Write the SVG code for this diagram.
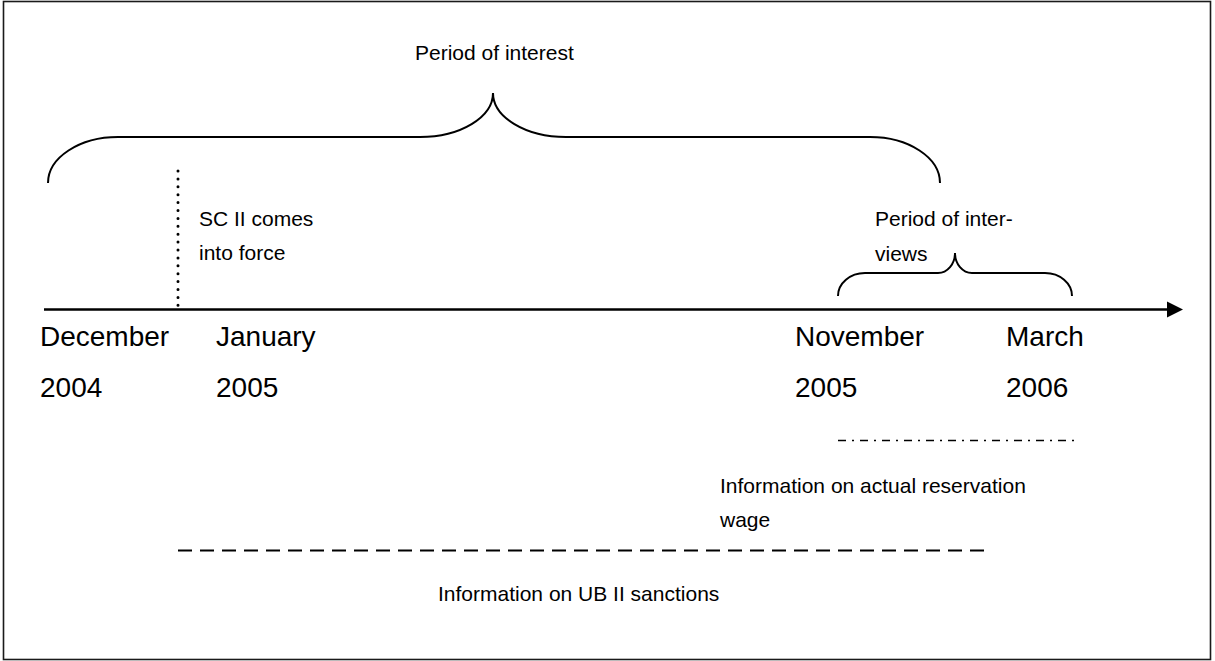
<svg xmlns="http://www.w3.org/2000/svg" width="1215" height="661" viewBox="0 0 1215 661">
<defs>
<style>
.t{font-family:"Liberation Sans",Arial,sans-serif;fill:#000}
.s{font-size:21px}
.b{font-size:28px}
.ln{fill:none;stroke:#000}
</style>
</defs>
<rect x="0" y="0" width="1215" height="661" fill="#fff"/>
<rect x="3.5" y="1.5" width="1207" height="658" fill="none" stroke="#1a1a1a" stroke-width="1.6"/>
<g id="connectors">
<path id="axis" class="ln" stroke-width="2.5" d="M44 309.5 H1170"/>
<polygon points="1183,309.5 1167,301.5 1167,317.5" fill="#000"/>
<path id="sc2-line" class="ln" stroke-width="3" stroke-linecap="round" stroke-dasharray="0 7.9" d="M178 171 V308"/>
<path id="reservation-line" class="ln" stroke-width="1.5" stroke-dasharray="8 6 2 6" d="M838 440.5 H1075"/>
<path id="sanctions-line" class="ln" stroke-width="2" stroke-dasharray="14 8" d="M178 550.5 H990"/>
</g>
<g id="brace-interest">
<path class="ln" stroke-width="2" d="M48 183 A70 46 0 0 1 118 137 H420 A73 44 0 0 0 493 93 A73 44 0 0 0 566 137 H870 A70 46 0 0 1 940 183"/>
<text class="t s" x="415" y="60">Period of interest</text>
</g>
<g id="brace-interviews">
<path class="ln" stroke-width="2" d="M838 296 A27 23 0 0 1 865 273 H938 A17 20 0 0 0 955 253 A17 20 0 0 0 972 273 H1045 A27 23 0 0 1 1072 296"/>
<text class="t s" x="875" y="226">Period of inter-</text>
<text class="t s" x="875" y="261">views</text>
</g>
<g id="sc2-label">
<text class="t s" x="199" y="226">SC II comes</text>
<text class="t s" x="199" y="260">into force</text>
</g>
<g id="dec2004">
<text class="t b" x="40" y="346">December</text>
<text class="t b" x="40" y="397">2004</text>
</g>
<g id="jan2005">
<text class="t b" x="216" y="346">January</text>
<text class="t b" x="216" y="397">2005</text>
</g>
<g id="nov2005">
<text class="t b" x="795" y="346">November</text>
<text class="t b" x="795" y="397">2005</text>
</g>
<g id="mar2006">
<text class="t b" x="1006" y="346">March</text>
<text class="t b" x="1006" y="397">2006</text>
</g>
<g id="reservation-label">
<text class="t s" x="720" y="493">Information on actual reservation</text>
<text class="t s" x="720" y="527">wage</text>
</g>
<g id="sanctions-label">
<text class="t s" x="438" y="601">Information on UB II sanctions</text>
</g>
</svg>
